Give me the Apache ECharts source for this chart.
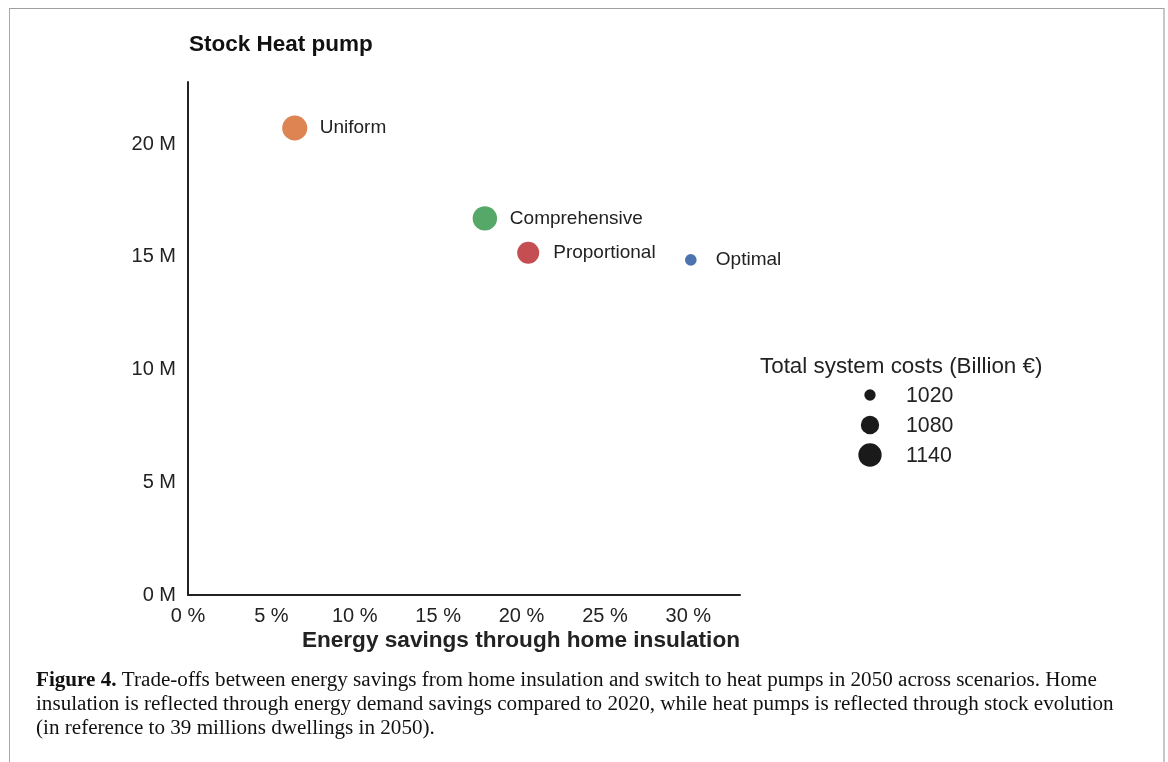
<!DOCTYPE html>
<html>
<head>
<meta charset="utf-8">
<script src="https://cdn.jsdelivr.net/npm/echarts@6/dist/echarts.min.js"></script>
<style>
html,body{margin:0;padding:0;background:#fff;}
#frame{position:absolute;left:9px;top:8px;width:1153px;height:800px;border-top:1px solid #a0a0a0;border-left:1px solid #a8a8a8;border-right:2px solid #c8c8c8;}
#chart{position:absolute;left:0;top:0;width:1168px;height:762px;}
</style>
</head>
<body>
<div id="frame"></div>
<div id="chart"></div>
<script>
// ---- data ----
const scenarios = ['Uniform', 'Comprehensive', 'Proportional', 'Optimal'];
const savingsPct = [6.4, 17.8, 20.4, 30.15];          // Energy savings through home insulation (%)
const heatPumpStockM = [20.71, 16.7, 15.18, 14.86];   // Stock of heat pumps (millions)
const totalCosts = [1165, 1155, 1123, 1022];          // Total system costs (Billion €)
const colors = ['#DD8452', '#55A868', '#C44E52', '#4C72B0'];
const legendCosts = [1020, 1080, 1140];
const xTicksPct = [0, 5, 10, 15, 20, 25, 30];
const yTicksM = [0, 5, 10, 15, 20];

// size mapping (area proportional to cost)
function sizeOf(c) { return Math.sqrt(Math.max(20, 128 + 3.46 * (c - 1020))); }

const chart = echarts.init(document.getElementById('chart'), null, {renderer: 'canvas'});
const font = 'Liberation Sans, Arial, sans-serif';
const serif = 'Liberation Serif, Times New Roman, serif';

const seriesData = scenarios.map((s, i) => ({
  name: s,
  value: [savingsPct[i], heatPumpStockM[i], totalCosts[i]],
  itemStyle: {color: colors[i], opacity: 1}
}));

const legendGraphics = [];
legendGraphics.push({
  type: 'text', x: 760, y: 367,
  style: {text: 'Total system costs (Billion €)', font: '22.4px ' + font, fill: '#222', verticalAlign: 'middle'}
});
legendCosts.forEach((c, i) => {
  const y = 395 + i * 30;
  const r = sizeOf(c) / 2;
  legendGraphics.push({type: 'circle', shape: {cx: 870, cy: y, r: r}, style: {fill: '#1a1a1a'}});
  legendGraphics.push({type: 'text', x: 906, y: y + 1, style: {text: String(c), font: '21.3px ' + font, fill: '#222', verticalAlign: 'middle', align: 'left'}});
});

const captionLines = [
  [{t: 'Figure 4.', b: true}, {t: ' Trade-offs between energy savings from home insulation and switch to heat pumps in 2050 across scenarios. Home'}],
  [{t: 'insulation is reflected through energy demand savings compared to 2020, while heat pumps is reflected through stock evolution'}],
  [{t: '(in reference to 39 millions dwellings in 2050).'}]
];
const captionGraphics = captionLines.map((parts, i) => ({
  type: 'text', x: 36, y: 681 + i * 24, scaleX: 1.056,
  style: {
    text: parts.map(p => p.b ? '{b|' + p.t + '}' : '{n|' + p.t + '}').join(''),
    verticalAlign: 'middle',
    rich: {
      b: {font: 'bold 20px ' + serif, fill: '#111'},
      n: {font: '20px ' + serif, fill: '#111'}
    }
  }
}));

const option = {
  backgroundColor: 'transparent',
  animation: false,
  grid: {left: 188, top: 82, right: 428, bottom: 167, containLabel: false, outerBoundsMode: 'none'},
  xAxis: {
    type: 'value', min: 0, max: 33.1, interval: 5,
    axisLine: {show: true, lineStyle: {color: '#222', width: 2}},
    axisTick: {show: false},
    splitLine: {show: false},
    axisLabel: {
      show: true, margin: 11, color: '#222', fontSize: 20, fontFamily: font,
      showMaxLabel: false,
      formatter: v => (xTicksPct.indexOf(v) >= 0 ? v + ' %' : '')
    },
    name: 'Energy savings through home insulation',
    nameLocation: 'end', nameGap: 0,
    nameTextStyle: {fontSize: 22.6, fontWeight: 'bold', fontFamily: font, color: '#222', align: 'right', verticalAlign: 'top', padding: [34, 0, 0, 0]}
  },
  yAxis: {
    type: 'value', min: 0, max: 22.75, interval: 5,
    axisLine: {show: true, lineStyle: {color: '#222', width: 2}},
    axisTick: {show: false},
    splitLine: {show: false},
    axisLabel: {
      show: true, margin: 12, color: '#222', fontSize: 20, fontFamily: font,
      showMaxLabel: false,
      formatter: v => (yTicksM.indexOf(v) >= 0 ? v + ' M' : '')
    },
    name: 'Stock Heat pump',
    nameLocation: 'end', nameGap: 37,
    nameTextStyle: {fontSize: 22.5, fontWeight: 'bold', fontFamily: font, color: '#111', align: 'left', verticalAlign: 'middle', padding: [0, 0, 0, 1]}
  },
  series: [{
    type: 'scatter',
    data: seriesData,
    symbol: 'circle',
    symbolSize: v => sizeOf(v[2]),
    itemStyle: {opacity: 1},
    label: {
      show: true, position: 'inside', align: 'left', verticalAlign: 'middle', offset: [25, 0],
      formatter: p => p.name, color: '#222', fontSize: 19, fontFamily: font, opacity: 1
    },
    emphasis: {disabled: true}
  }],
  graphic: legendGraphics.concat(captionGraphics)
};
chart.setOption(option);
</script>
</body>
</html>
